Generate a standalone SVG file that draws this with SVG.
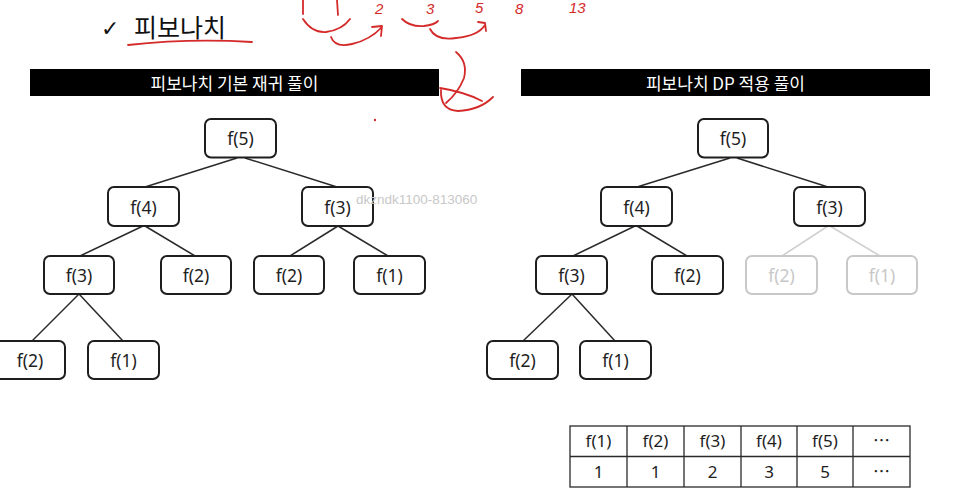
<svg xmlns="http://www.w3.org/2000/svg" width="953" height="492" viewBox="0 0 953 492">
<style>
.node rect{fill:#fff;stroke:#1e1e1e;stroke-width:2}
.node text{font-family:"Noto Sans","Noto Sans CJK KR",sans-serif;font-size:17.5px;fill:#1e1e1e;text-anchor:middle;dominant-baseline:central}
.node.dim rect{stroke:#c8c8c8}
.node.dim text{fill:#c8c8c8}
.edges line{stroke:#2a2a2a;stroke-width:1.5}
.edges line.dim{stroke:#cfcfcf}
.hdr rect{fill:#000}
.hdr text{font-family:"Noto Sans CJK KR",sans-serif;font-size:17px;font-weight:400;fill:#fff;text-anchor:middle;dominant-baseline:central}
.tbl rect,.tbl line{fill:none;stroke:#2a2a2a;stroke-width:1.3}
.tbl text{font-family:"Noto Sans","Noto Sans CJK KR",sans-serif;font-size:17px;fill:#1e1e1e;text-anchor:middle;dominant-baseline:central}
.ink{fill:none;stroke:#d42a2a;stroke-width:1.8;stroke-linecap:round;stroke-linejoin:round}
.inktxt{font-family:"Liberation Sans",sans-serif;font-style:italic;font-size:15px;fill:#d42a2a}
</style>
<rect width="953" height="492" fill="#fff"/>

<!-- title -->
<g id="title">
<text x="101" y="36" font-family="DejaVu Sans,sans-serif" font-size="22" font-weight="bold" fill="#111">✓</text>
<text x="134" y="37" font-family="Noto Sans CJK KR,sans-serif" font-size="25" fill="#111">피보나치</text>
</g>

<!-- handwritten annotations -->
<g id="annotations">
<path class="ink" d="M128 45 Q190 38 252 42"/>
<path class="ink" d="M303 0 L303 14"/>
<path class="ink" d="M337 0 L338 15"/>
<text class="inktxt" x="375" y="14">2</text>
<text class="inktxt" x="426" y="14">3</text>
<text class="inktxt" x="475" y="13">5</text>
<text class="inktxt" x="515" y="14">8</text>
<text class="inktxt" x="569" y="13">13</text>
<path class="ink" d="M303 19 Q312 33 326 32 Q342 30 350 19"/>
<path class="ink" d="M331 37 Q335 48 352 44 Q370 40 382 27 M372 27 L382 26 L381 36"/>
<path class="ink" d="M402 19 Q410 27 424 26 Q434 25 438 21"/>
<path class="ink" d="M430 29 Q436 41 456 38 Q478 36 485 25 M478 22 L485 23 L486 31"/>
<path class="ink" d="M456 52 Q468 62 464 78 Q458 93 446 103"/>
<path class="ink" d="M440 88 Q465 92 482 101"/>
<path class="ink" d="M441 90 Q440 110 458 111 Q480 110 493 97"/>
<circle cx="375" cy="120" r="1.2" fill="#d42a2a"/>
</g>

<!-- headers -->
<g id="hdr-left" class="hdr"><rect x="30" y="69" width="409" height="27"/><text x="234.5" y="82.5">피보나치 기본 재귀 풀이</text></g>
<g id="hdr-right" class="hdr"><rect x="521" y="69" width="409" height="27"/><text x="725.5" y="82.5">피보나치 DP 적용 풀이</text></g>

<!-- connectors -->
<g id="connectors" class="edges">
<line x1="237" y1="158" x2="145" y2="187"/>
<line x1="245" y1="158" x2="337" y2="187"/>
<line x1="143" y1="226" x2="80" y2="256"/>
<line x1="145" y1="226" x2="195" y2="256"/>
<line x1="338" y1="226" x2="290" y2="256"/>
<line x1="338" y1="226" x2="388" y2="256"/>
<line x1="79" y1="294" x2="32" y2="341"/>
<line x1="79" y1="294" x2="123" y2="341"/>
<line x1="730" y1="158" x2="637" y2="187"/>
<line x1="737" y1="158" x2="828" y2="187"/>
<line x1="635" y1="226" x2="573" y2="256"/>
<line x1="637" y1="226" x2="687" y2="256"/>
<line class="dim" x1="828" y1="226" x2="782" y2="256"/>
<line class="dim" x1="830" y1="226" x2="880" y2="256"/>
<line x1="572" y1="294" x2="523" y2="341"/>
<line x1="572" y1="294" x2="615" y2="341"/>
</g>

<!-- left tree -->
<g id="L-f5" class="node"><rect x="205" y="119" width="71" height="38.5" rx="6"/><text x="240.5" y="138">f(5)</text></g>
<g id="L-f4" class="node"><rect x="108" y="187" width="71" height="39" rx="6"/><text x="143.5" y="206.5">f(4)</text></g>
<g id="L-f3a" class="node"><rect x="302" y="187" width="71" height="39" rx="6"/><text x="337.5" y="206.5">f(3)</text></g>
<g id="L-f3b" class="node"><rect x="44" y="256" width="70" height="38" rx="6"/><text x="79" y="275">f(3)</text></g>
<g id="L-f2a" class="node"><rect x="161" y="256" width="70" height="38" rx="6"/><text x="196" y="275">f(2)</text></g>
<g id="L-f2b" class="node"><rect x="254" y="256" width="70" height="38" rx="6"/><text x="289" y="275">f(2)</text></g>
<g id="L-f1a" class="node"><rect x="354" y="256" width="71" height="38" rx="6"/><text x="389.5" y="275">f(1)</text></g>
<g id="L-f2c" class="node"><rect x="-6" y="341" width="71" height="38" rx="6"/><text x="30" y="360">f(2)</text></g>
<g id="L-f1b" class="node"><rect x="88" y="341" width="71" height="38" rx="6"/><text x="123.5" y="360">f(1)</text></g>

<!-- right tree -->
<g id="R-f5" class="node"><rect x="698" y="119" width="70" height="38.5" rx="6"/><text x="733" y="138">f(5)</text></g>
<g id="R-f4" class="node"><rect x="601" y="187" width="71" height="39" rx="6"/><text x="636.5" y="206.5">f(4)</text></g>
<g id="R-f3a" class="node"><rect x="794" y="187" width="71" height="39" rx="6"/><text x="829.5" y="206.5">f(3)</text></g>
<g id="R-f3b" class="node"><rect x="536" y="256" width="71" height="38" rx="6"/><text x="571.5" y="275">f(3)</text></g>
<g id="R-f2a" class="node"><rect x="652" y="256" width="71" height="38" rx="6"/><text x="687.5" y="275">f(2)</text></g>
<g id="R-f2b" class="node dim"><rect x="746" y="256" width="71" height="38" rx="6"/><text x="781.5" y="275">f(2)</text></g>
<g id="R-f1a" class="node dim"><rect x="847" y="256" width="70" height="38" rx="6"/><text x="882" y="275">f(1)</text></g>
<g id="R-f2c" class="node"><rect x="487" y="341" width="71" height="38" rx="6"/><text x="522.5" y="360">f(2)</text></g>
<g id="R-f1b" class="node"><rect x="580" y="341" width="71" height="38" rx="6"/><text x="615.5" y="360">f(1)</text></g>

<!-- watermark -->
<text x="356" y="204" font-family="Liberation Sans,sans-serif" font-size="13.5" fill="#c8c8c8">dkzndk1100-813060</text>

<!-- memo table -->
<g id="memo-table" class="tbl">
<rect x="570" y="426" width="340" height="61"/>
<line x1="570" y1="456.5" x2="910" y2="456.5"/>
<line x1="627" y1="426" x2="627" y2="487"/>
<line x1="684" y1="426" x2="684" y2="487"/>
<line x1="741" y1="426" x2="741" y2="487"/>
<line x1="797" y1="426" x2="797" y2="487"/>
<line x1="853" y1="426" x2="853" y2="487"/>
<text x="598.5" y="440.5">f(1)</text>
<text x="655.5" y="440.5">f(2)</text>
<text x="712.5" y="440.5">f(3)</text>
<text x="769" y="440.5">f(4)</text>
<text x="825" y="440.5">f(5)</text>
<text x="881.5" y="440.5">⋯</text>
<text x="598.5" y="471">1</text>
<text x="655.5" y="471">1</text>
<text x="712.5" y="471">2</text>
<text x="769" y="471">3</text>
<text x="825" y="471">5</text>
<text x="881.5" y="471">⋯</text>
</g>
</svg>
